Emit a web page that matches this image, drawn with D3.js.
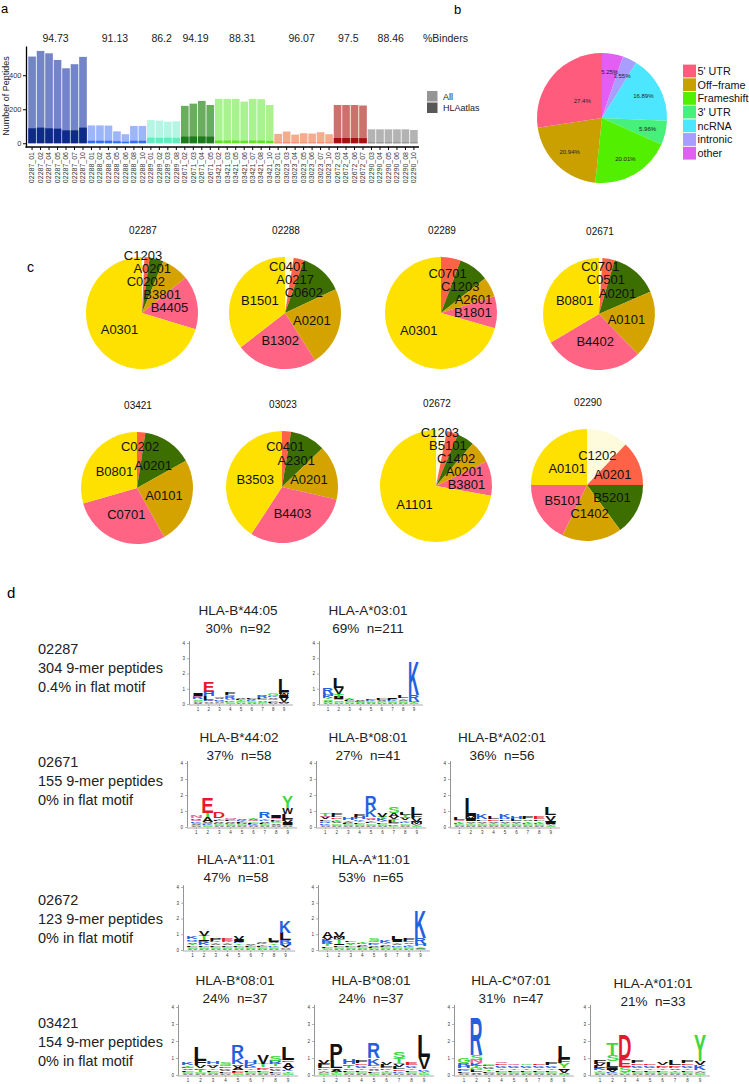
<!DOCTYPE html>
<html><head><meta charset="utf-8">
<script src="https://cdn.jsdelivr.net/npm/d3@7"></script>
<style>
body{margin:0;background:#fff}
svg text{font-family:"Liberation Sans",Arial,sans-serif}
</style></head>
<body>
<svg id="fig" width="749" height="1084"></svg>
<script>
// ================= DATA =================
// Panel a
const sampleIds = ["02287_01","02287_02","02287_04","02287_05","02287_06","02287_07","02287_10",
 "02288_01","02288_02","02288_04","02288_05","02288_06","02288_08","02288_10",
 "02289_01","02289_02","02289_03","02289_08",
 "02671_02","02671_03","02671_04","02671_05",
 "03421_02","03421_03","03421_05","03421_06","03421_07","03421_08","03421_10",
 "03023_01","03023_03","03023_04","03023_05","03023_06","03023_07","03023_10",
 "02672_03","02672_04","02672_06","02672_07",
 "02290_03","02290_04","02290_05","02290_06","02290_08","02290_10"];
const allPeptides = [510,543,529,490,441,465,508, 105,105,104,70,53,102,102, 137,133,127,129,
 220,233,249,225, 261,261,261,245,261,259,225, 55,69,51,59,57,65,53, 225,225,225,222, 82,82,82,82,82,78];
const hlaAtlasPeptides = [88,92,88,86,76,76,92, 15,15,15,12,9,15,15, 33,32,33,32,
 39,40,40,39, 16,16,16,15,16,16,14, 4,5,4,4,4,5,4, 31,31,31,30, 4,4,4,4,4,4];
const donorOrder = ["02287","02288","02289","02671","03421","03023","02672","02290"];
const percentBinders = ["94.73","91.13","86.2","94.19","88.31","96.07","97.5","88.46"];
const allColors = ["#7384c8","#9db6fa","#b3f6e3","#6aad5f","#a8f38f","#f5ab8d","#cc726c","#b3b3b3"];
const atlasColors = ["#0c2a86","#336df3","#62ecbf","#1d7b1d","#5ee421","#ea8153","#a31111","#757575"];
const yTicksA = [0,200,400];
const legendA = ["All","HLAatlas"];

// Panel b
const sourceCategories = ["5' UTR","Off\u2212frame","Frameshift","3' UTR","ncRNA","intronic","other"];
const sourcePercent = [27.4,20.94,20.01,5.96,16.89,3.55,5.25];
const sourceColors = ["#ff5b7d","#c9a000","#52ef00","#47ef7b","#4de6ff","#a89eff","#e25ff4"];

// Panel c (slot order: cream, red, green, gold, pink, yellow; clockwise from top)
const pieDonors = ["02287","02288","02289","02671","03421","03023","02672","02290"];
const pieAlleles = [
 ["C1203","C0202","A0201","B3801","B4405","A0301"],
 ["C0401","A0217","C0602","A0201","B1302","B1501"],
 ["","C0701","C1203","A2601","B1801","A0301"],
 ["C0701","C0501","A0201","A0101","B4402","B0801"],
 ["","C0202","A0201","A0101","C0701","B0801"],
 ["","C0401","A2301","A0201","B4403","B3503"],
 ["C1203","B5101","C1402","A0201","B3801","A1101"],
 ["C1202","A0201","B5201","C1402","B5101","A0101"]];
const pieShares = [
 [0.7,1.5,4,8,15.5,70.3],
 [2.5,3,12.5,23,23.5,35.5],
 [0,5.7,8.7,5.8,9.2,70.6],
 [1,3.5,14,19.3,28.7,33.5],
 [0,2.4,14.5,25,28.6,29.5],
 [0,2.6,10.2,15.8,30.6,40.8],
 [3.1,3.3,5,6.4,10,72.2],
 [12.1,12.9,14.9,17.3,17.8,25]];
const slotColors = ["#fdfbdc","#ff6347","#3d6f00","#d5a300","#ff6484","#ffe100"];

// Panel d
const motifDonors = ["02287","02671","02672","03421"];
const motifPeptideCounts = [304,155,123,154];
const motifFlat = ["0.4%","0%","0%","0%"];
const motifAlleles = [["HLA-B*44:05","HLA-A*03:01"],["HLA-B*44:02","HLA-B*08:01","HLA-B*A02:01"],
 ["HLA-A*11:01","HLA-A*11:01"],["HLA-B*08:01","HLA-B*08:01","HLA-C*07:01","HLA-A*01:01"]];
const motifShares = [[30,69],[37,27,36],[47,53],[24,24,31,21]];
const motifN = [[92,211],[58,41,56],[58,65],[37,37,47,33]];
// letter stacks (bottom -> top), letter + bits, positions 1..9 separated by |
const logoStacks = [
 ["V.06 A.08 G.08 S.1 R.12 Q.1 I.18|S.08 A.08 Q.06 K.06 L.22 H.3 E.67|G.06 A.08 S.08 R.08 V.07 Q.08|S.08 G.08 K.1 A.1 R.12 Q.1 F.17|A.06 G.06 S.08 T.06 L.06 V.06|A.06 S.08 G.07 K.06 V.06 L.07|G.06 S.08 A.08 Q.08 L.1 R.15|A.08 L.08 S.1 Q.08 V.1 K.1 G.18|A.05 M.06 V.3 I.12 W.12 F.15 L.8",
  "A.06 G.08 V.08 S.1 T.1 K.12 H.14 R.44|A.06 G.08 S.1 Q.06 I.12 T.22 V.42 L.7|A.06 G.06 S.08 L.08 V.06 T.1|A.05 S.05 L.05 G.05 V.05|A.05 S.06 G.06 K.06 L.06 T.06|A.06 G.06 S.08 V.08 L.07 F.1|A.06 S.06 G.06 K.06 L.08 I.08|A.06 S.08 G.06 V.08 T.1 L.12|S.05 T.05 Q.06 H.06 R.38 K2.2"],
 ["A.06 G.06 V.08 S.08 K.08 Q.1 R.08 N.13|S.06 G.06 K.06 Q.06 V.08 A.28 T.3 E.98|A.06 S.08 G.06 K.08 V.08 L.08 T.1 D.4|A.06 S.08 G.06 K.08 V.08 L.08 Q.06 N.1|A.06 S.06 G.06 R.06 L.08 T.08 K.06 V.1|A.06 S.06 K.06 L.08 G.08 Q.08 V.08 T.1|A.06 S.08 G.06 L.08 V.08 K.08 T.1 R.42|A.06 S.08 V.08 G.08 K.08 L.08 Q.08 I.16|A.05 S.05 I.12 V.18 F.12 L.3 W.38 Y.75",
  "A.06 S.08 K.08 R.08 G.08 L.1 V.12 Q.1 T.15|A.06 S.08 G.08 V.1 K.08 T.1 D.1 L.1 F.15|A.06 S.06 G.06 L.08 V.08 T.08 H.13|A.06 S.08 G.06 L.1 T.1 K.1 H.12 F.18|A.06 S.08 G.08 L.1 T.1 V.08 Q.1 K.45 R.9|A.06 S.08 G.06 L.1 T.1 K.12 Y.13 V.2|G.06 K.08 Q.08 L.12 T.15 V.15 A.2 S.4|A.06 S.08 G.08 K.1 T.1 V.12 Q.1 Y.14 L.12|S.05 T.06 A.1 M.12 V.2 F.25 L.5",
  "A.06 S.08 G.06 K.08 T.08 Q.1 L.14|A.06 S.06 G.06 T.08 V.1 I.12 M.18 L1.1|A.06 S.08 G.06 T.08 V.1 L.1 K.3|A.06 S.08 G.06 T.08 V.1 E.1 L.12|A.06 S.08 G.06 T.08 V.1 L.1 R.1 K.22|A.06 S.08 G.06 T.08 V.1 L.12 H.18|A.06 S.08 G.06 K.08 T.1 V.1 F.14|A.06 S.08 G.06 K.08 T.1 L.1 E.12|S.05 T.05 A.08 I.12 M.1 V.35 L.5"],
 ["A.06 S.08 G.06 L.1 T.1 V.1 Q.1 R.08 K.12|A.06 S.08 G.06 L.1 K.12 R.12 I.1 T.28 V.3|A.06 S.08 G.06 L.1 V.1 T.1 K.1 P.15|A.06 S.08 G.06 L.1 V.1 T.1 K.1 E.15|A.06 S.08 G.08 L.1 T.1 K.1 I.12 V.22|A.06 S.06 G.06 L.08 T.08 V.1|A.06 S.08 G.06 L.08 T.1 K.07 V.1|A.06 S.08 G.08 K.1 T.1 V.1 I.08 L.12|S.04 A.06 Y.12 V.12 H.12 R.18 L.46 K.7",
  "S.06 G.08 L.1 T.12 R.12 K.14 V.16 A.42|A.06 S.08 G.06 L.1 I.1 T.3 M.12 V.3|A.06 S.08 G.06 L.1 T.1 V.1 F.1|A.06 S.08 G.06 L.08 V.1 K.07 T.1|A.06 G.06 L.08 V.1 K.1 E.08 Q.08 S.14|A.06 S.08 G.06 L.08 V.1 T.08 K.14|A.06 S.08 G.06 K.1 V.1 T.1 I.12 L.2|A.06 S.08 G.06 K.08 T.1 V.1 E.1 F.14|S.04 T.05 A.06 Y.1 H.12 R.4 K1.75"],
 ["A.06 S.08 G.06 L.1 V.1 E.08 T.1 K.12|A.06 S.08 G.06 T.12 K.1 V.14 F.26 L.8|A.06 S.08 G.06 L.1 T.1 V.12 K.1 H.16|A.06 G.06 L.1 V.1 K.1 E.08 Q.08 S.12|S.06 G.06 D.08 L.1 A.12 V.12 T.1 K.36 R.72|A.06 S.08 G.06 L.1 T.1 E.1 K.12 H.22|A.06 S.08 G.06 L.1 K.08 E.08 T.2 V.5|A.06 G.06 L.1 V.1 K.1 E.1 T.12 R.18 S.32|S.06 G.06 T.1 K.08 V.14 A.32 E.1 L.76",
  "S.06 G.06 A.08 T.1 K.1 L.12 F.12 V.2|S.06 G.06 T.08 A.12 V.08 L.42 P1|A.06 S.08 G.06 L.1 V.1 T.12 K.1 H.3|A.06 S.08 G.06 L.1 T.1 V.1 K.1 E.08 F.14|S.06 G.06 L.1 A.1 V.1 T.1 E.08 K.4 R.92|A.06 S.08 G.06 T.1 K.1 E.08 L.12 V.16|A.06 G.08 K.1 E.1 L.14 V.14 Q.1 T.3 S.35|A.06 S.08 G.06 L.1 T.1 V.1 K.1 E.12|S.05 G.05 T.06 A.08 K.1 V.7 L1.3",
  "A.06 S.08 L.08 K.1 E.1 H.12 R.14 G.3|A.06 V.1 L.12 G.12 T.14 K.14 N.2 S.3 R2.2|A.06 S.08 L.1 T.1 V.1 K.08 E.08 G.1|A.06 S.08 G.06 L.1 T.1 V.1 K.08 E.08 Q.1|A.06 S.08 G.06 L.1 T.1 V.1 K.08 Q.12|A.06 S.08 G.06 L.1 T.1 V.1 K.08 C.1|A.06 S.08 G.06 L.1 T.1 V.1 K.08 E.06|A.06 S.08 G.06 L.1 T.1 V.1 K.08 F.12|S.05 A.06 V.2 I.1 Y.3 F.22 L.75",
  "A.06 S.08 G.06 T.1 K.12 L.12 V.12 F.2|A.06 G.06 K.08 V.12 I.12 E.06 L.3 S.38 T.7|A.06 G.06 T.08 S.3 E.45 D1.4|A.06 S.08 G.06 L.1 T.1 V.1 K.1 E.08 F.12|A.06 S.08 G.06 L.1 T.1 V.1 K.08 E.08|A.06 S.08 G.06 L.1 T.1 K.1 E.08 V.14|A.06 S.08 G.06 T.1 V.1 K.1 E.08 L.3|A.06 S.08 G.06 L.1 T.1 V.1 K.1 E.08 F.14|S.05 G.05 A.08 T.1 K.3 V.25 Y1.5"]];
const logoBitTicks = [0,1,2,3,4];
const logoPositions = [1,2,3,4,5,6,7,8,9];

// ================= LAYOUT =================
const svg = d3.select("#fig");
const panelLetter = (t,x,y,fs)=>svg.append("text").attr("x",x).attr("y",y).attr("font-size",fs).text(t);

// ---------- Panel a ----------
panelLetter("a",1,13,13);
const gA = svg.append("g");
const xA = d3.scaleBand().domain(sampleIds).range([28,418]).paddingInner(0.1).paddingOuter(0.03);
const yA = d3.scaleLinear().domain([-22,572]).range([147,46]);
const grp = id => donorOrder.indexOf(id.slice(0,5));
const barsData = sampleIds.map((id,i)=>({id,all:allPeptides[i],atlas:hlaAtlasPeptides[i],g:grp(id)}));
gA.selectAll("rect.all").data(barsData).join("rect").attr("class","all")
  .attr("x",d=>xA(d.id)).attr("width",xA.bandwidth())
  .attr("y",d=>yA(d.all)).attr("height",d=>yA(0)-yA(d.all)).attr("fill",d=>allColors[d.g]);
gA.selectAll("rect.atl").data(barsData).join("rect").attr("class","atl")
  .attr("x",d=>xA(d.id)).attr("width",xA.bandwidth())
  .attr("y",d=>yA(d.atlas)).attr("height",d=>yA(0)-yA(d.atlas)).attr("fill",d=>atlasColors[d.g]);
const yAxA = gA.append("g").attr("transform","translate(26,0)")
  .call(d3.axisLeft(yA).tickValues(yTicksA).tickSize(3).tickPadding(1.5).tickSizeOuter(0));
yAxA.select(".domain").attr("stroke","#000").attr("stroke-width",1.3);
yAxA.selectAll("text").attr("font-size",7.5).attr("fill","#333").attr("font-family","Liberation Sans");
const xAxA = gA.append("g").attr("transform","translate(0,147)")
  .call(d3.axisBottom(xA).tickSize(3).tickSizeOuter(0));
xAxA.select(".domain").remove();
xAxA.selectAll("text").attr("transform","rotate(-90)").attr("x",-5).attr("y",0).attr("dy","0.33em")
  .style("text-anchor","end").attr("font-size",7).attr("fill","#333").attr("font-family","Liberation Sans");
gA.append("line").attr("x1",25.4).attr("x2",419).attr("y1",147).attr("y2",147).attr("stroke","#000").attr("stroke-width",1.3);
svg.append("text").attr("transform","translate(9,96) rotate(-90)").attr("text-anchor","middle")
  .attr("font-size",9).attr("fill","#222").text("Number of Peptides");
donorOrder.forEach((dn,gi)=>{
  const ids = sampleIds.filter(id=>id.startsWith(dn));
  const cx = (xA(ids[0]) + xA(ids[ids.length-1]) + xA.bandwidth())/2 - 2;
  svg.append("text").attr("x",cx).attr("y",42).attr("text-anchor","middle").attr("font-size",10.5).attr("fill","#222").text(percentBinders[gi]);
});
svg.append("text").attr("x",423).attr("y",42).attr("font-size",10.5).attr("fill","#222").text("%Binders");
legendA.forEach((t,i)=>{
  svg.append("rect").attr("x",427).attr("y",91+i*11.5).attr("width",10.5).attr("height",10.5).attr("fill",i?"#585858":"#959595");
  svg.append("text").attr("x",443).attr("y",96.5+i*11.5).attr("dy","0.35em").attr("font-size",9).attr("fill","#222").text(t);
});

// ---------- Panel b ----------
panelLetter("b",454,14,13);
const gB = svg.append("g").attr("transform","translate(602,118)");
const Rb = 65;
const srcIdx = d3.range(sourceCategories.length).reverse();
const pieB = d3.pie().sort(null).value(i=>sourcePercent[i])(srcIdx);
const arcB = d3.arc().innerRadius(0).outerRadius(Rb);
gB.selectAll("path").data(pieB).join("path").attr("d",arcB).attr("fill",d=>sourceColors[d.data]);
const arcBL = d3.arc().innerRadius(Rb*0.72).outerRadius(Rb*0.72);
const arcBC = d3.arc().innerRadius(Rb*0.4).outerRadius(Rb*0.4);
gB.selectAll("text").data(pieB).join("text")
  .attr("transform",d=>`translate(${(sourcePercent[d.data]>25?arcBC:arcBL).centroid(d)})`)
  .attr("text-anchor","middle").attr("dy","0.35em").attr("font-size",6).attr("fill","#222")
  .text(d=>sourcePercent[d.data]+"%");
sourceCategories.forEach((c,i)=>{
  svg.append("rect").attr("x",683).attr("y",64.6+i*13.7).attr("width",13).attr("height",12.8).attr("fill",sourceColors[i]);
  svg.append("text").attr("x",697.5).attr("y",71+i*13.7).attr("dy","0.36em").attr("font-size",10.8).attr("fill","#111").text(c);
});

// ---------- Panel c ----------
panelLetter("c",27,272,14);
const pieCenters = [[142,313],[285,313],[441,313],[599,314],[137,488],[282,487],[436,486],[587,485]];
const Rc = 56;
const mctx = document.createElement("canvas").getContext("2d");
function separate(labs, spring){
  for(let i=0;i<labs.length;i++)for(let j=i+1;j<labs.length;j++){
    const a=labs[i],b=labs[j];
    const dx=b.x-a.x, dy=b.y-a.y;
    const ox=(a.w+b.w)/2+1-Math.abs(dx), oy=(a.h+b.h)/2+0.5-Math.abs(dy);
    if(ox>0&&oy>0){
      if(oy<=ox*1.3){const s=(dy>=0?1:-1)*oy*0.5;a.y-=s;b.y+=s;}
      else{const s=(dx>=0?1:-1)*ox*0.5;a.x-=s;b.x+=s;}
    }
  }
  labs.forEach(l=>{l.x+=(l.ax-l.x)*spring;l.y+=(l.ay-l.y)*spring;});
}
pieDonors.forEach((dn,k)=>{
  const [cx,cy] = pieCenters[k];
  svg.append("text").attr("x",cx+1).attr("y",cy-79).attr("text-anchor","middle").attr("font-size",10).attr("fill","#111").text(dn);
  const g = svg.append("g").attr("transform",`translate(${cx},${cy})`);
  const slices = d3.pie().sort(null).value(i=>pieShares[k][i])(d3.range(6)).filter(s=>pieShares[k][s.data]>0);
  g.selectAll("path").data(slices).join("path").attr("d",d3.arc().innerRadius(0).outerRadius(Rc)).attr("fill",s=>slotColors[s.data]);
  mctx.font = "13px 'Liberation Sans'";
  const labs = slices.map(s=>{
    const share = pieShares[k][s.data];
    const a=(s.startAngle+s.endAngle)/2, r=Rc*(0.5+0.3*Math.max(0,1-share/12));
    const x=r*Math.sin(a), y=-r*Math.cos(a);
    return {t:pieAlleles[k][s.data],x,y,ax:x,ay:y,w:mctx.measureText(pieAlleles[k][s.data]).width,h:12.5};
  });
  for(let it=0;it<1200;it++) separate(labs,0.004);
  for(let it=0;it<300;it++) separate(labs,0);
  g.selectAll("text").data(labs).join("text").attr("x",l=>l.x).attr("y",l=>l.y).attr("dy","0.36em")
    .attr("text-anchor","middle").attr("font-size",13).attr("fill","#111").text(l=>l.t);
});

// ---------- Panel d ----------
panelLetter("d",7,598,15);
const rowLayout = [
 {titleY:615,textY:654,y0:704,unit:15.25,axes:[189,319],width:104},
 {titleY:742,textY:767,y0:827,unit:16,axes:[187,316,450],width:110},
 {titleY:864,textY:905,y0:950,unit:15.75,axes:[183,318],width:112},
 {titleY:985,textY:1028,y0:1075,unit:17,axes:[178,314,454,590],width:120}];
const aaColor = l => "DE".includes(l)?"#e5192b":"KRH".includes(l)?"#2460de":"STGYC".includes(l)?"#3ed83e":"NQ".includes(l)?"#e46aa0":"#111";
mctx.font = "bold 100px 'Liberation Sans'";
const metric = {};
const getM = l => metric[l] || (metric[l] = mctx.measureText(l));
function drawLetter(g,l,x,yTop,w,h){
  if(h<=0.05) return;
  const m = getM(l);
  const iw = m.actualBoundingBoxLeft + m.actualBoundingBoxRight;
  const ih = m.actualBoundingBoxAscent + m.actualBoundingBoxDescent;
  g.append("text").attr("font-size",100).attr("font-weight","bold").attr("fill",aaColor(l))
   .attr("transform",`translate(${x},${yTop}) scale(${w/iw},${h/ih}) translate(${m.actualBoundingBoxLeft},${m.actualBoundingBoxAscent})`)
   .text(l);
}
const sansD = "Lato, 'Open Sans', sans-serif";
rowLayout.forEach((row,r)=>{
  [motifDonors[r], motifPeptideCounts[r]+" 9-mer peptides", motifFlat[r]+" in flat motif"].forEach((t,i)=>{
    svg.append("text").attr("x",38).attr("y",row.textY+i*19).attr("font-size",14.5).attr("font-family",sansD).attr("fill","#222").text(t);
  });
  row.axes.forEach((ax,c)=>{
    const g = svg.append("g");
    const w = row.width;
    const cxT = ax + w/2 - 3 + (r===3&&c===3?6:0);
    const dyT = (r===3&&c===3)?3:0;
    svg.append("text").attr("x",cxT).attr("y",row.titleY+dyT).attr("text-anchor","middle").attr("font-size",13.5).attr("font-family",sansD).attr("fill","#222").text(motifAlleles[r][c]);
    svg.append("text").attr("x",cxT).attr("y",row.titleY+18+dyT).attr("text-anchor","middle").attr("font-size",13.5).attr("font-family",sansD).attr("fill","#222").attr("xml:space","preserve").text(motifShares[r][c]+"%  n="+motifN[r][c]);
    const y = d3.scaleLinear().domain([0,4.15]).range([row.y0,row.y0-4.15*row.unit]);
    const x = d3.scaleBand().domain(logoPositions).range([ax+4,ax+w-4]).paddingInner(0.06);
    const ya = g.append("g").attr("transform",`translate(${ax},0)`)
      .call(d3.axisLeft(y).tickValues(logoBitTicks).tickFormat(d3.format("d")).tickSize(2).tickPadding(2).tickSizeOuter(0));
    ya.select(".domain").attr("stroke","#666").attr("stroke-width",0.7);
    ya.selectAll("line").attr("stroke","#666").attr("stroke-width",0.5);
    ya.selectAll("text").attr("font-size",4.5).attr("fill","#333").attr("font-family","Liberation Sans");
    const xa = g.append("g").attr("transform",`translate(0,${row.y0+0.5})`)
      .call(d3.axisBottom(x).tickSize(1.5).tickPadding(1.5).tickSizeOuter(0));
    xa.select(".domain").attr("stroke","#888").attr("stroke-width",0.7).attr("d",`M${ax},0.5H${ax+w}`);
    xa.selectAll("line").attr("stroke","#666").attr("stroke-width",0.5);
    xa.selectAll("text").attr("font-size",4.5).attr("fill","#333").attr("font-family","Liberation Sans");
    const stacks = logoStacks[r][c].split("|");
    stacks.forEach((p,i)=>{
      let base = 0;
      p.trim().split(/\s+/).forEach(tok=>{
        const l = tok[0], b = +tok.slice(1);
        const yb = y(base), yt = y(base+b);
        drawLetter(g,l,x(i+1),yt,x.bandwidth(),yb-yt);
        base += b;
      });
    });
  });
});
</script>
</body></html>
